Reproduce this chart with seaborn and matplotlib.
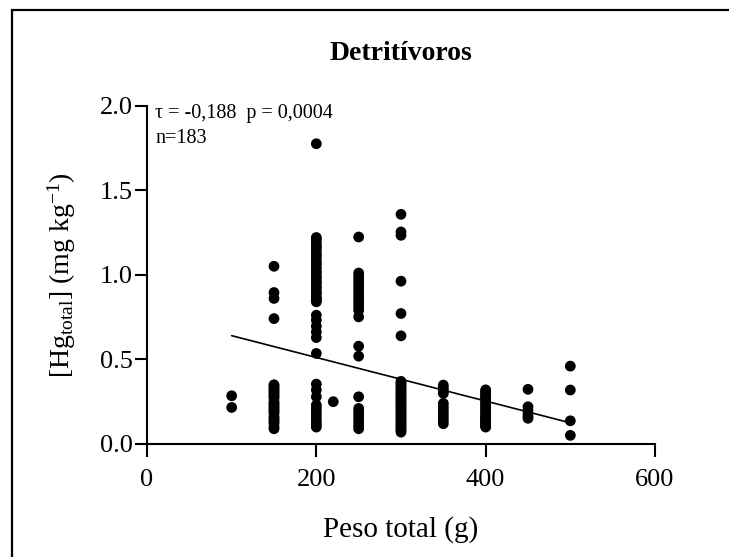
import numpy as np
import pandas as pd
import matplotlib
matplotlib.use("Agg")
import matplotlib.pyplot as plt
import matplotlib.patches as mpatches
from matplotlib.ticker import FormatStrFormatter
import seaborn as sns

# ---- data ----
hg_100 = [0.285, 0.216]
hg_150 = [1.05, 0.895, 0.86, 0.741,
          0.35, 0.34, 0.33, 0.32, 0.31, 0.30, 0.29, 0.28, 0.27, 0.25, 0.24, 0.23,
          0.22, 0.21, 0.20, 0.19, 0.18, 0.16, 0.15, 0.14, 0.13, 0.12, 0.10, 0.09]
hg_200 = [1.774,
          1.22, 1.21, 1.19, 1.17, 1.16, 1.14, 1.12, 1.11, 1.09, 1.07, 1.06, 1.04, 1.02,
          1.01, 0.99, 0.98, 0.96, 0.95, 0.93, 0.92, 0.90, 0.89, 0.87, 0.86, 0.85, 0.84,
          0.761, 0.732, 0.696, 0.662, 0.629, 0.535,
          0.354, 0.319, 0.279, 0.23, 0.21, 0.19, 0.17, 0.15, 0.13, 0.115, 0.10]
hg_220 = [0.25]
hg_250 = [1.223,
          1.01, 0.99, 0.97, 0.95, 0.93, 0.91, 0.89, 0.87, 0.85, 0.83, 0.81, 0.79,
          0.751, 0.578, 0.519,
          0.279, 0.21, 0.19, 0.17, 0.15, 0.13, 0.11, 0.09]
hg_300 = [1.357, 1.253, 1.233, 0.962, 0.771, 0.639,
          0.37, 0.36, 0.35, 0.34, 0.33, 0.32, 0.31, 0.30, 0.29, 0.28, 0.27, 0.26, 0.25,
          0.24, 0.23, 0.22, 0.21, 0.20, 0.19, 0.18, 0.17, 0.16, 0.15, 0.14, 0.13, 0.12,
          0.11, 0.10, 0.09, 0.08, 0.07]
hg_350 = [0.348, 0.33, 0.315, 0.299, 0.24, 0.22, 0.20, 0.18, 0.16, 0.14, 0.12]
hg_400 = [0.32, 0.31, 0.30, 0.29, 0.28, 0.27, 0.26, 0.25, 0.24, 0.23, 0.22, 0.21, 0.20,
          0.19, 0.18, 0.17, 0.16, 0.15, 0.145, 0.14, 0.13, 0.125, 0.12, 0.11, 0.105, 0.10]
hg_450 = [0.323, 0.22, 0.20, 0.18, 0.165, 0.152]
hg_500 = [0.46, 0.319, 0.137, 0.051]

weights = [100, 150, 200, 220, 250, 300, 350, 400, 450, 500]
groups = [hg_100, hg_150, hg_200, hg_220, hg_250, hg_300, hg_350, hg_400, hg_450, hg_500]

trend_x = [100, 500]
trend_y = [0.64, 0.125]

x_ticks = [0, 200, 400, 600]
y_ticks = [0.0, 0.5, 1.0, 1.5, 2.0]

df = pd.DataFrame({
    "peso": np.concatenate([[w] * len(g) for w, g in zip(weights, groups)]),
    "hg": np.concatenate(groups),
})

# ---- style ----
sns.set_theme(style="ticks")
plt.rcParams["font.family"] = ["Liberation Serif", "DejaVu Serif"]
plt.rcParams["mathtext.fontset"] = "custom"
plt.rcParams["mathtext.rm"] = "Liberation Serif"
plt.rcParams["mathtext.it"] = "Liberation Serif:italic"

fig = plt.figure(figsize=(7.29, 5.57), dpi=100)
ax = fig.add_axes([147 / 729, 1 - 444 / 557, 508 / 729, 338.5 / 557])

sns.scatterplot(data=df, x="peso", y="hg", ax=ax, color="black", s=60,
                edgecolor="none", linewidth=0, zorder=3)
sns.lineplot(x=trend_x, y=trend_y, ax=ax, color="black", linewidth=1.2, zorder=2)

ax.set_xlim(0, 600)
ax.set_ylim(0, 2.0)
ax.set_xticks(x_ticks)
ax.set_yticks(y_ticks)
ax.yaxis.set_major_formatter(FormatStrFormatter("%.1f"))
sns.despine(ax=ax)
for s in ["left", "bottom"]:
    ax.spines[s].set_linewidth(1.5)
    ax.spines[s].set_color("black")
ax.tick_params(axis="both", direction="out", length=9, width=1.5, colors="black",
               labelsize=19)
ax.tick_params(axis="x", pad=9)
ax.tick_params(axis="y", pad=1)

ax.set_xlabel("Peso total (g)", fontsize=21, color="black")
ax.set_ylabel(r"[Hg$_{\mathregular{total}}$] (mg kg$^{\mathregular{-1}}$)",
              fontsize=20, color="black")
ax.xaxis.set_label_coords(0.5, -0.212)
ax.yaxis.set_label_coords(-0.135, 0.5)

ax.text(0.5, 1.155, "Detritívoros", transform=ax.transAxes, ha="center", va="center",
        fontsize=20, fontweight="bold", color="black")
ax.text(0.016, 0.976, "τ = -0,188  p = 0,0004", transform=ax.transAxes, ha="left",
        va="center", fontsize=14.5, color="black")
ax.text(0.016, 0.903, "n=183", transform=ax.transAxes, ha="left", va="center",
        fontsize=14.5, color="black")

# outer frame
fig.patches.append(mpatches.Rectangle((12 / 729, -0.1), 1.2, 1 - 10 / 557 + 0.1,
                                      transform=fig.transFigure, fill=False,
                                      edgecolor="black", linewidth=1.6))

fig.savefig("out.png", dpi=100)
